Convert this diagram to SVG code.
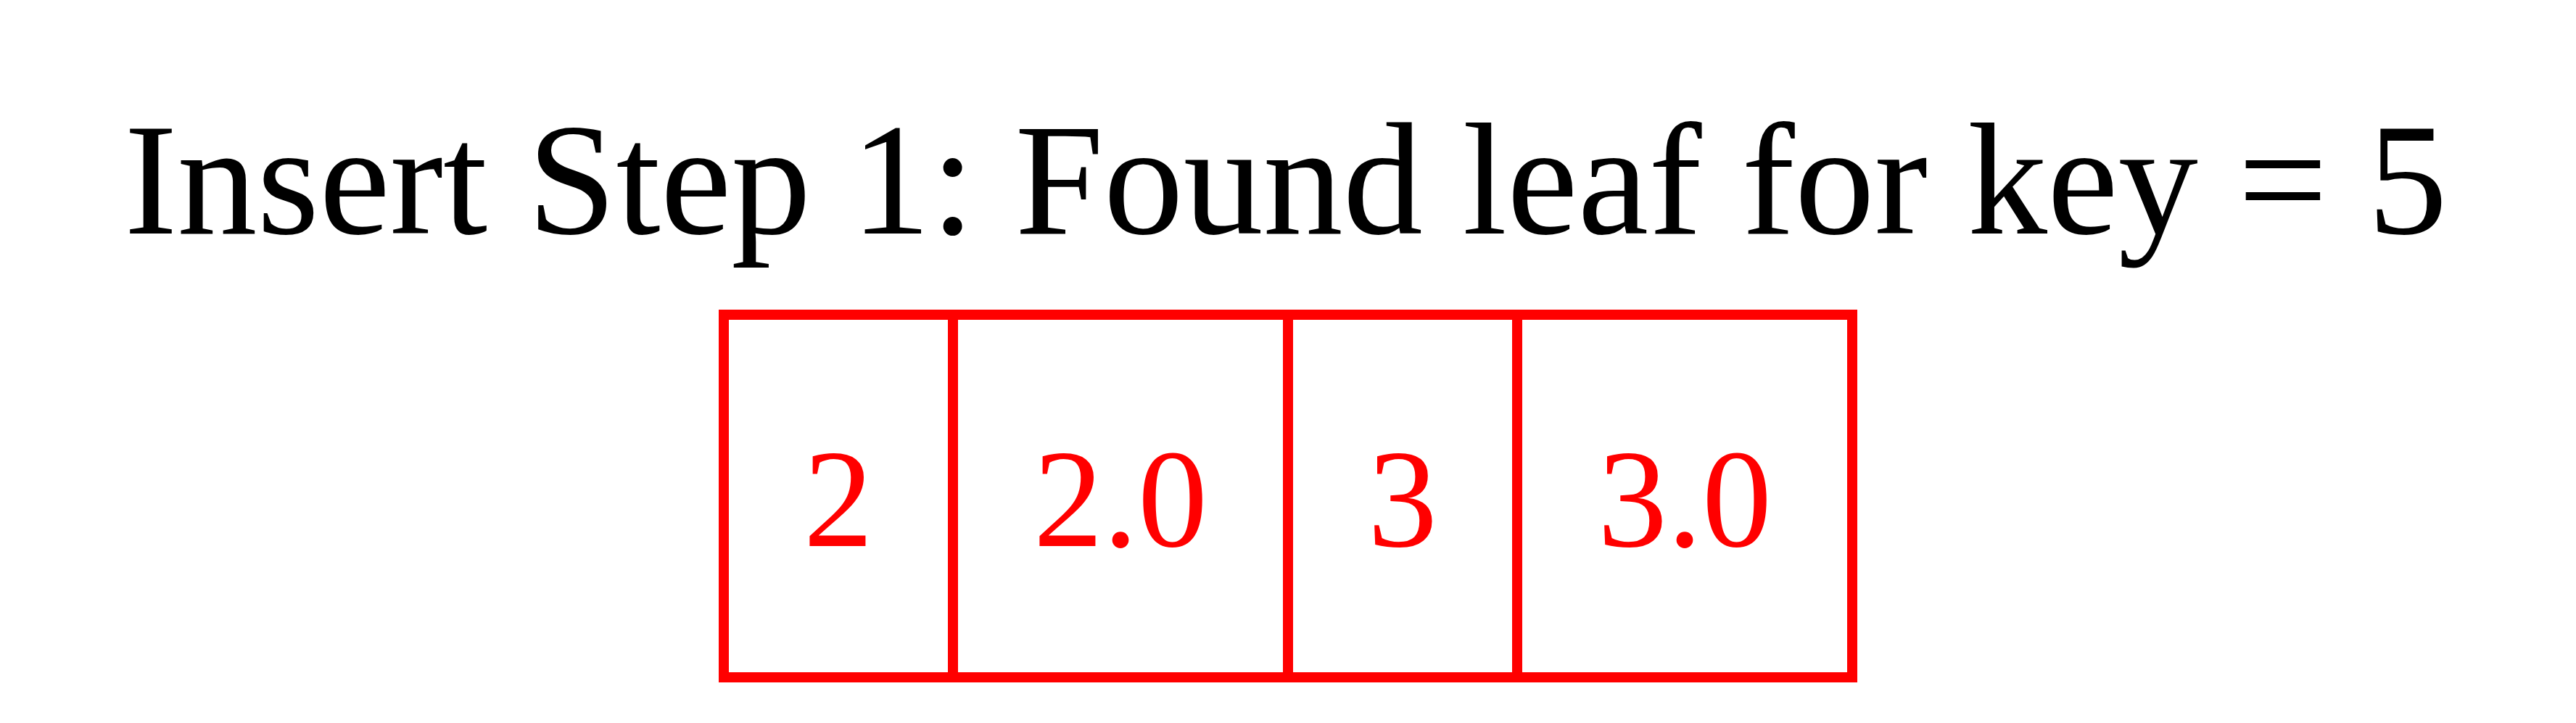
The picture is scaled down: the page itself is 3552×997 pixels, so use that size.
<svg xmlns="http://www.w3.org/2000/svg" width="3552" height="997" viewBox="0 0 3552 997">
<style>
.title{font-family:"Liberation Serif","Times New Roman",serif;font-size:220px;fill:#000;text-anchor:middle}
.cell{fill:none;stroke:#ff0000;stroke-width:14}
.val{font-family:"Liberation Serif","Times New Roman",serif;font-size:192px;fill:#ff0000;text-anchor:middle}
</style>
<rect width="3552" height="997" fill="#fff"/>
<text id="title" class="title" x="1773" y="322">Insert Step 1: Found leaf for key = 5</text>
<g id="leaf">
<rect class="cell" x="998" y="434" width="1556" height="500"/>
<line class="cell" x1="1314" y1="434" x2="1314" y2="934"/>
<line class="cell" x1="1776" y1="434" x2="1776" y2="934"/>
<line class="cell" x1="2092" y1="434" x2="2092" y2="934"/>
<text class="val" x="1156" y="753">2</text>
<text class="val" x="1545" y="753">2.0</text>
<text class="val" x="1934" y="753">3</text>
<text class="val" x="2323" y="753">3.0</text>
</g>
<g id="connectors"/>
</svg>
